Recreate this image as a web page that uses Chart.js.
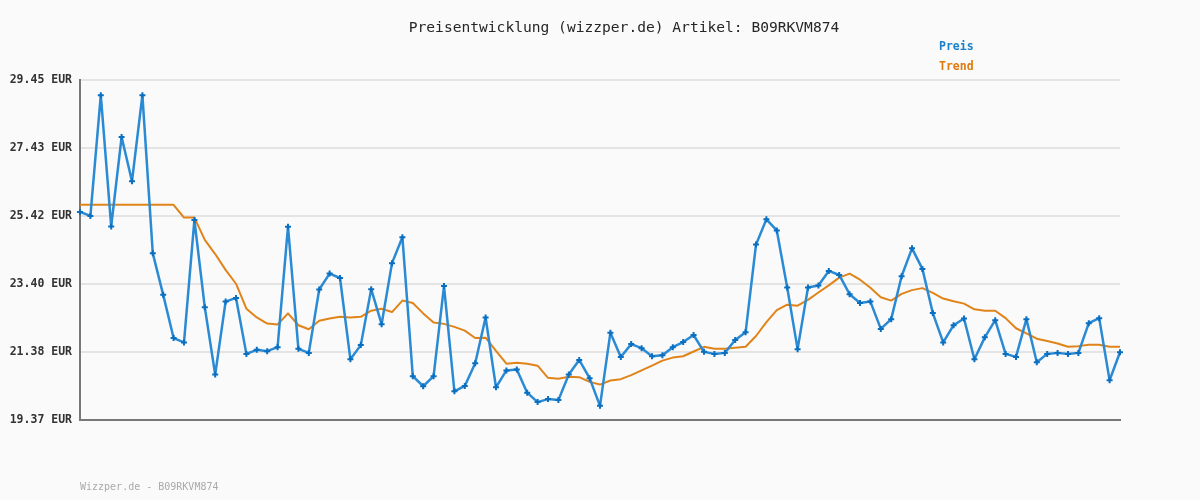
<!DOCTYPE html>
<html>
<head>
<meta charset="utf-8">
<script src="https://cdn.jsdelivr.net/npm/chart.js@4"></script>
<style>
  html, body { margin: 0; padding: 0; background: #fafafa; }
  #wrap { width: 1200px; height: 500px; position: relative; }
</style>
</head>
<body>
<div id="wrap"><canvas id="priceChart"></canvas></div>
<script>
// Price values (EUR)
const preis = [
  25.54, 25.42, 29.00, 25.11, 27.76, 26.45, 29.00, 24.31, 23.08, 21.80,
  21.67, 25.30, 22.71, 20.72, 22.88, 22.99, 21.33, 21.45, 21.41, 21.53,
  25.10, 21.48, 21.36, 23.24, 23.71, 23.58, 21.17, 21.59, 23.25, 22.21,
  24.02, 24.79, 20.67, 20.37, 20.67, 23.34, 20.22, 20.38, 21.05, 22.41,
  20.34, 20.84, 20.87, 20.18, 19.90, 19.99, 19.96, 20.72, 21.15, 20.61,
  19.79, 21.96, 21.24, 21.62, 21.50, 21.26, 21.29, 21.53, 21.68, 21.89,
  21.39, 21.33, 21.36, 21.74, 21.97, 24.57, 25.32, 24.99, 23.30, 21.47,
  23.30, 23.36, 23.79, 23.67, 23.10, 22.84, 22.88, 22.07, 22.36, 23.63,
  24.46, 23.85, 22.54, 21.67, 22.18, 22.38, 21.17, 21.82, 22.33, 21.33,
  21.24, 22.36, 21.08, 21.33, 21.36, 21.33, 21.36, 22.24, 22.39, 20.55,
  21.38
];

const trend = [
  25.75, 25.75, 25.75, 25.75, 25.75, 25.75, 25.75, 25.75, 25.75, 25.75,
  25.37, 25.37, 24.71, 24.29, 23.82, 23.41, 22.67, 22.41, 22.23, 22.20,
  22.53, 22.18, 22.06, 22.31, 22.38, 22.43, 22.41, 22.43, 22.61, 22.67,
  22.57, 22.91, 22.84, 22.53, 22.26, 22.22, 22.13, 22.02, 21.80, 21.81,
  21.42, 21.04, 21.07, 21.04, 20.98, 20.62, 20.59, 20.65, 20.64, 20.50,
  20.42, 20.54, 20.58, 20.70, 20.84, 20.98, 21.13, 21.22, 21.26, 21.40,
  21.54, 21.48, 21.48, 21.51, 21.54, 21.86, 22.27, 22.63, 22.79, 22.76,
  22.93, 23.15, 23.36, 23.59, 23.71, 23.53, 23.29, 23.01, 22.91, 23.11,
  23.22, 23.28, 23.14, 22.97, 22.89, 22.82, 22.65, 22.61, 22.61, 22.39,
  22.09, 21.94, 21.78, 21.71, 21.64, 21.54, 21.56, 21.60, 21.60, 21.54,
  21.54
];

// y axis tick values
const yTicks = [19.37, 21.38, 23.40, 25.42, 27.43, 29.45];

// one category per price point (no dates shown on the chart)
const labels = preis.map((_, i) => String(i + 1));

const MONO = '"DejaVu Sans Mono", "Liberation Mono", monospace';

// Title, legend and footer texts drawn straight on the canvas
const textPlugin = {
  id: 'texts',
  afterDraw(chart) {
    const ctx = chart.ctx;
    ctx.save();
    ctx.textBaseline = 'middle';

    ctx.fillStyle = '#262626';
    ctx.font = '14.6px ' + MONO;
    ctx.textAlign = 'center';
    ctx.fillText('Preisentwicklung (wizzper.de) Artikel: B09RKVM874', 624, 28);

    ctx.textAlign = 'left';
    ctx.font = 'bold 11.5px ' + MONO;
    ctx.fillStyle = '#1a7fcc';
    ctx.fillText('Preis', 939, 47);
    ctx.fillStyle = '#dd7a0e';
    ctx.fillText('Trend', 939, 67);

    ctx.font = '10px ' + MONO;
    ctx.fillStyle = '#aaaaaa';
    ctx.fillText('Wizzper.de - B09RKVM874', 80, 487);
    ctx.restore();
  }
};

const bgPlugin = {
  id: 'bg',
  beforeDraw(chart) {
    const ctx = chart.ctx;
    ctx.save();
    ctx.fillStyle = '#fafafa';
    ctx.fillRect(0, 0, chart.width, chart.height);
    ctx.restore();
  }
};

const ctx = document.getElementById('priceChart').getContext('2d');
const priceChart = new Chart(ctx, {
  type: 'line',
  data: {
    labels: labels,
    datasets: [
      {
        label: 'Trend',
        data: trend,
        borderColor: '#e0841a',
        borderWidth: 2,
        borderJoinStyle: 'round',
        pointRadius: 0,
        tension: 0,
        order: 2
      },
      {
        label: 'Preis',
        data: preis,
        borderColor: '#2a8ad4',
        borderWidth: 2.5,
        borderJoinStyle: 'round',
        pointStyle: 'cross',
        pointRadius: 3,
        pointBorderColor: '#0a6fc0',
        pointBorderWidth: 2,
        tension: 0,
        order: 1
      }
    ]
  },
  options: {
    responsive: true,
    maintainAspectRatio: false,
    animation: false,
    layout: {
      padding: { left: 0, right: 80, top: 80, bottom: 80 }
    },
    plugins: {
      legend: { display: false },
      title: { display: false },
      tooltip: { enabled: false }
    },
    scales: {
      x: {
        offset: false,
        ticks: { display: false },
        grid: { display: false },
        border: { display: true, color: '#777777', width: 2 },
        afterFit: function(scale) { scale.height = 0; }
      },
      y: {
        min: 19.37,
        max: 29.45,
        afterBuildTicks: function(scale) {
          scale.ticks = yTicks.map(v => ({ value: v }));
        },
        afterFit: function(scale) { scale.width = 80; },
        ticks: {
          padding: 8,
          color: '#333333',
          font: { family: MONO, size: 11.5, weight: 'bold' },
          callback: function(value) { return value.toFixed(2) + ' EUR'; }
        },
        grid: {
          color: '#e4e4e4',
          lineWidth: 2,
          drawTicks: false
        },
        border: { display: true, color: '#777777', width: 2 }
      }
    }
  },
  plugins: [bgPlugin, textPlugin]
});
</script>
</body>
</html>
